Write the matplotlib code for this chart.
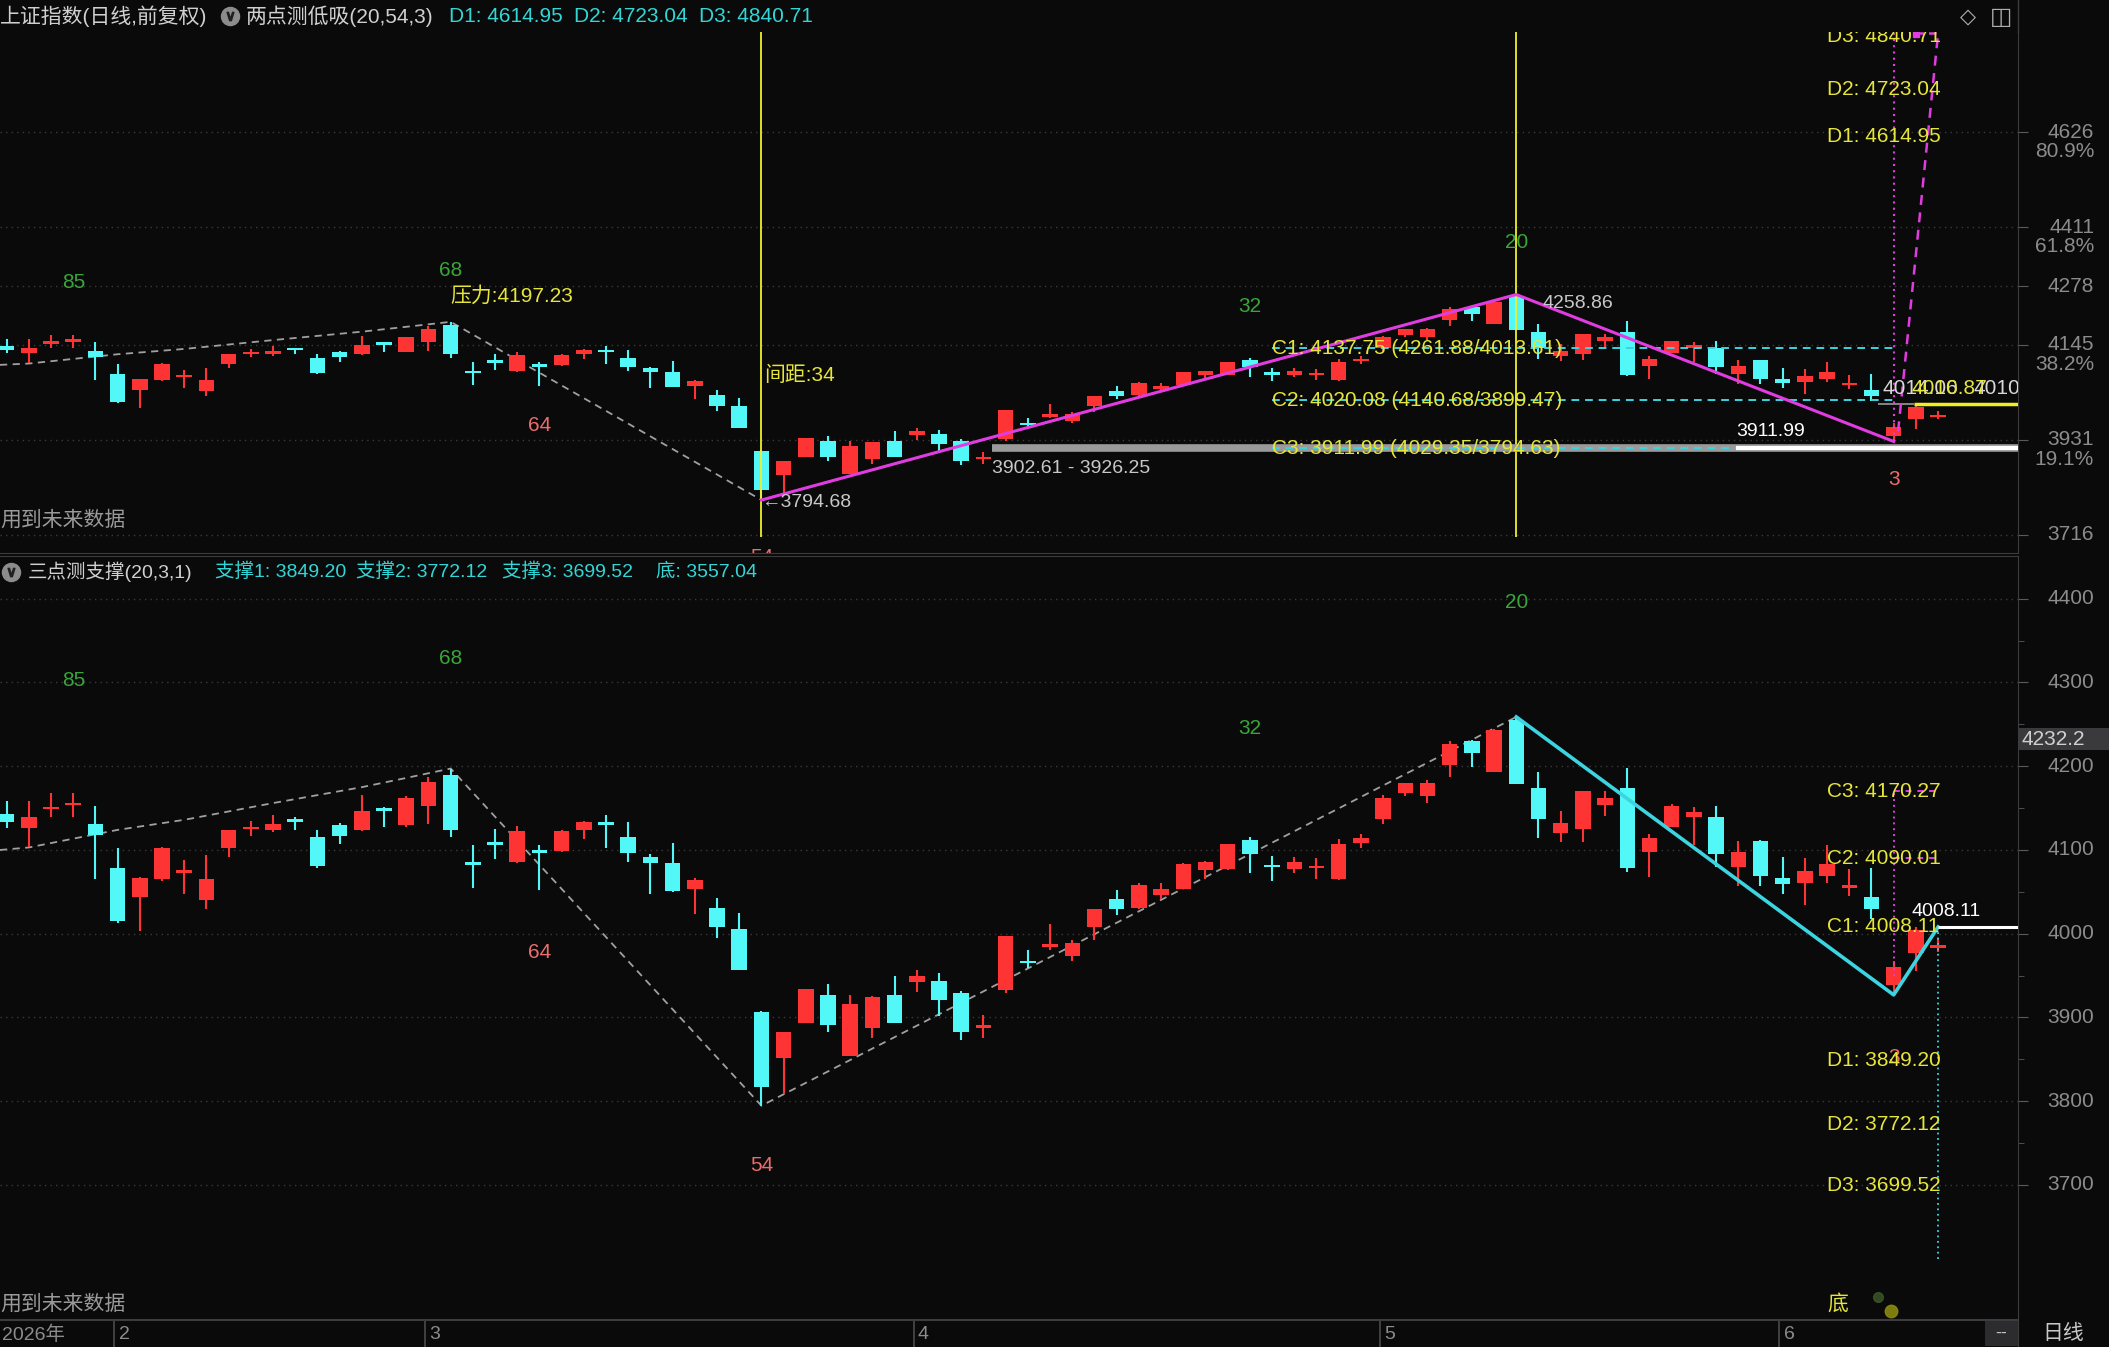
import matplotlib
matplotlib.use('Agg')
import matplotlib.pyplot as plt
from matplotlib.lines import Line2D
from matplotlib.patches import Rectangle
from matplotlib.transforms import blended_transform_factory as blend
import numpy as np

plt.rcParams['font.family'] = ['Liberation Sans', 'Noto Sans CJK SC', 'DejaVu Sans']

# ---- daily candles (index 0 = late Jan 2026, last = early June) ----
opens = [4143, 4126, 4149, 4154, 4131, 4079, 4044, 4065, 4074, 4040,
         4102, 4126, 4124, 4136, 4115, 4130, 4124, 4150, 4130, 4152,
         4190, 4086, 4109, 4086, 4099, 4099, 4124, 4133, 4116, 4092,
         4085, 4053, 4031, 4006, 3906, 3852, 3893, 3927, 3854, 3887,
         3927, 3942, 3943, 3929, 3888, 3933, 3968, 3985, 3973, 4008,
         4042, 4031, 4046, 4054, 4076, 4077, 4112, 4082, 4077, 4079,
         4065, 4108, 4137, 4168, 4164, 4201, 4230, 4193, 4255, 4174,
         4120, 4125, 4154, 4174, 4097, 4127, 4139, 4139, 4080, 4111,
         4067, 4061, 4069, 4055, 4044, 3939, 3977, 3984]
highs = [4159, 4158, 4168, 4168, 4152, 4102, 4068, 4104, 4088, 4094,
         4124, 4135, 4142, 4139, 4124, 4132, 4166, 4151, 4164, 4187,
         4197.23, 4106, 4125, 4129, 4106, 4124, 4135, 4142, 4133, 4095,
         4108, 4066, 4043, 4025, 3908, 3883, 3934, 3940, 3927, 3926,
         3950, 3957, 3953, 3932, 3903, 3997, 3980, 4012, 3993, 4029,
         4052, 4061, 4060, 4085, 4087, 4107, 4116, 4093, 4092, 4091,
         4113, 4119, 4166, 4180, 4183, 4230, 4231, 4244, 4258.86, 4193,
         4147, 4170, 4170, 4198, 4119, 4155, 4151, 4153, 4111, 4112,
         4092, 4090, 4106, 4077, 4079, 3968, 4008.11, 3995]
lows = [4126, 4104, 4139, 4139, 4065, 4013, 4003, 4063, 4048, 4030,
        4092, 4117, 4121, 4124, 4079, 4107, 4123, 4128, 4128, 4131,
        4115, 4055, 4089, 4085, 4052, 4098, 4113, 4102, 4086, 4048,
        4050, 4024, 3995, 3957, 3794.68, 3809, 3893, 3883, 3854, 3875,
        3893, 3931, 3902, 3873, 3876, 3929, 3959, 3981, 3968, 3993,
        4022, 4029, 4041, 4053, 4065, 4076, 4073, 4063, 4072, 4065,
        4064, 4102, 4131, 4164, 4156, 4187, 4199, 4193, 4179, 4114,
        4109, 4110, 4141, 4074, 4068, 4127, 4106, 4080, 4057, 4057,
        4047, 4034, 4061, 4045, 4018, 3927, 3956, 3978]
closes = [4133, 4139, 4151, 4156, 4118, 4015, 4067, 4102, 4075, 4065,
          4124, 4127, 4131, 4135, 4081, 4117, 4146, 4147, 4162, 4181,
          4124, 4082, 4107, 4123, 4097, 4123, 4133, 4130, 4096, 4084,
          4051, 4064, 4008, 3957, 3817, 3883, 3934, 3891, 3916, 3925,
          3893, 3950, 3921, 3883, 3891, 3997, 3965, 3987, 3989, 4029,
          4029, 4058, 4053, 4083, 4086, 4107, 4095, 4080, 4086, 4080,
          4107, 4114, 4162, 4180, 4180, 4226, 4216, 4243, 4179, 4137,
          4132, 4170, 4162, 4078, 4114, 4153, 4145, 4095, 4098, 4069,
          4059, 4075, 4083, 4058, 4029, 3960, 4005, 3985]

month_starts = [5, 19, 41, 62, 80]
month_labels = ['2', '3', '4', '5', '6']

# zigzag pivots (grey dashed line)
zz_x = [-0.3, 1, 5, 8, 12, 16, 18, 20, 34, 68]
zz_y = [4100, 4103, 4124, 4136, 4156, 4175, 4186, 4197.23, 3794.68, 4258.86]

# two-point indicator (top pane)
swing_x = [34, 68, 85]
swing_y = [3794.68, 4258.86, 3927]
c_levels = [4137.75, 4020.08, 3911.99]
c_texts = ['C1: 4137.75 (4261.88/4013.61)', 'C2: 4020.08 (4140.68/3899.47)',
           'C3: 3911.99 (4029.35/3794.63)']
d_levels_top = [4614.95, 4723.04, 4840.71]
top_ticks = [4626, 4411, 4278, 4145, 3931, 3716]
top_pcts = ['80.9%', '61.8%', '', '38.2%', '19.1%', '']

# three-point indicator (bottom pane)
leg_x = [68, 85, 87]
leg_y = [4258.86, 3927, 4008.11]
bc_levels = [4170.27, 4090.01, 4008.11]
bd_levels = [3849.20, 3772.12, 3699.52]
bottom_ticks = [4400, 4300, 4200, 4100, 4000, 3900, 3800, 3700]

# bar-count labels: text, index, price top pane, price bottom pane, is_high
count_labels = [('85', 3, 4286, 4302, True), ('68', 20, 4314, 4329, True),
                ('64', 24, 3962, 3977, False), ('54', 34, 3664, 3723, False),
                ('32', 56, 4232, 4245, True), ('20', 68, 4377, 4395, True),
                ('3', 85, 3840, 3852, False)]

BG = '#0a0a0b'
RED = '#fe3434'
CYAN = '#52f8f8'
GRID = '#3a3a3a'
AXC = '#8c8c8c'
YEL = '#e6e63a'
MAG = '#e03ce0'
LINE_CY = '#3cd4e0'
GREEN = '#3aa53a'
SALMON = '#ec6c6c'

W, H = 2109, 1347
fig = plt.figure(figsize=(W / 100, H / 100), dpi=100, facecolor=BG)


def fx(px):
    return px / W


def fy(py):
    return 1 - py / H


ax1 = fig.add_axes([0, fy(553), fx(2018), (553 - 32) / H])
ax2 = fig.add_axes([0, fy(1319), fx(2018), (1319 - 556) / H])
ax3 = fig.add_axes([0, 0, fx(2018), 27 / H])

XL = (-0.3, 90.6)


def style(ax):
    ax.set_facecolor(BG)
    for s in ax.spines.values():
        s.set_color('#3c3c3c')
    ax.spines['left'].set_visible(False)
    ax.set_xticks([])


def candles(ax, minh):
    x = np.arange(len(opens))
    o = np.array(opens, float)
    c = np.array(closes, float)
    col = np.where(c >= o, RED, CYAN)
    ax.vlines(x, lows, highs, colors=col, lw=1.5, zorder=3)
    h = np.maximum(np.abs(c - o), minh)
    ax.bar(x, h, 0.7, bottom=(o + c) / 2 - h / 2, color=col, lw=0, zorder=4)


for ax in (ax1, ax2, ax3):
    style(ax)
ax1.spines['top'].set_visible(False)
# right strip border up to the top of the picture
fig.add_artist(Line2D([fx(2018), fx(2018)], [fy(32), 1], color='#3c3c3c', lw=1,
                      transform=fig.transFigure))

# ---------------- top pane ----------------
ax1.set_xlim(*XL)
ax1.set_ylim(3675, 4852)
ax1.set_yticks(top_ticks)
ax1.yaxis.tick_right()
ax1.tick_params(axis='y', length=7, color='#5a5a5a', labelright=False)
ax1.grid(axis='y', color=GRID, ls=(0, (1, 3)), lw=1)
tr1 = blend(fig.transFigure, ax1.transData)
for v, p in zip(top_ticks, top_pcts):
    ax1.text(fx(2094), v, str(v), transform=tr1, ha='right', va='center',
             color=AXC, fontsize=15, clip_on=False)
    if p:
        ax1.annotate(p, (fx(2094), v), xycoords=tr1, xytext=(0, -14),
                     textcoords='offset points', ha='right', va='center',
                     color=AXC, fontsize=15, annotation_clip=False)

ax1.plot(zz_x, zz_y, color='#a0a0a0', ls=(0, (4, 3)), lw=1.3, zorder=2)
candles(ax1, 6)
for i in (34, 68):
    ax1.vlines(i, 3712, 4852, color='#f0f028', lw=1.3, zorder=5)

# C levels
ax1.hlines(c_levels[2], 44.4, XL[1], color='#9a9a9a', lw=5.5, zorder=5)
ax1.hlines(c_levels[2], 77.9, XL[1], color='white', lw=3, zorder=6)
ax1.hlines(c_levels[:2], 57, 85, color=LINE_CY, ls=(0, (4, 3)), lw=1.4, zorder=5)
ax1.hlines(c_levels[2], 57, 77.9, color=LINE_CY, ls=(0, (4, 3)), lw=1.4, zorder=6)
for lv, t in zip(c_levels, c_texts):
    ax1.text(57, lv, t, color=YEL, fontsize=15, va='center', zorder=8)
ax1.plot(swing_x, swing_y, color=MAG, lw=2.2, zorder=7)

# projection towards D levels
ax1.vlines(85, swing_y[-1], d_levels_top[-1] + 8, color=MAG, ls=(0, (1, 2)), lw=1.5, zorder=7)
ax1.plot([85.2, 87], [3950, d_levels_top[-1] + 8], color=MAG, ls=(0, (4, 3)), lw=1.8, zorder=7)
ax1.plot([86, 87], [d_levels_top[-1] + 8] * 2, color=MAG, ls=(0, (3, 2)), lw=1.8, zorder=7)
ax1.plot([86], [d_levels_top[-1] + 6], 's', color=MAG, ms=5, zorder=7)
for k, lv in enumerate(d_levels_top):
    ax1.text(82, lv, 'D%d: %.2f' % (k + 1, lv), color=YEL, fontsize=15,
             va='center', zorder=8, clip_on=True)

ax1.hlines(4010.87, 84.3, 85.9, color='#9a9a9a', lw=1.2, zorder=5)
ax1.hlines(4010.87, 85.9, XL[1], color='#f0f020', lw=2.5, zorder=6)
ax1.text(84.5, 4046, '4014.06', color='#d8d8d8', fontsize=15, va='center', zorder=8)
ax1.text(85.8, 4046, '4010.87', color=YEL, fontsize=15, va='center', zorder=9)
ax1.text(88.6, 4046, '4010.87', color='#d8d8d8', fontsize=15, va='center', zorder=8,
         clip_on=True)

ax1.text(20, 4256, '压力:4197.23', color=YEL, fontsize=15, va='center', zorder=8)
ax1.text(34.1, 4077, '间距:34', color=YEL, fontsize=15, va='center', zorder=8)
ax1.text(34.0, 3789, '←3794.68', color='#c8c8c8', fontsize=14, va='center', zorder=8)
ax1.text(44.4, 3865, '3902.61 - 3926.25', color='#c8c8c8', fontsize=14, va='center', zorder=8)
ax1.text(69.2, 4238, '4258.86', color='#c8c8c8', fontsize=14, va='center', zorder=8)
ax1.text(77.9, 3950, '3911.99', color='white', fontsize=14, va='center', zorder=8)
ax1.text(-0.3, 3750, '用到未来数据', color='#9a9a9a', fontsize=15, va='center')

for t, i, p1, p2, hi in count_labels:
    ax1.text(i, p1, t, color=GREEN if hi else SALMON, fontsize=15, ha='center',
             va='center', clip_on=True, zorder=8)
    ax2.text(i, p2, t, color=GREEN if hi else SALMON, fontsize=15, ha='center',
             va='center', clip_on=True, zorder=6)

# ---------------- bottom pane ----------------
ax2.set_xlim(*XL)
ax2.set_ylim(3540, 4451)
ax2.set_yticks(bottom_ticks)
ax2.set_yticks([3750, 3850, 3950, 4050, 4150, 4250, 4350], minor=True)
ax2.yaxis.tick_right()
ax2.tick_params(axis='y', which='major', length=7, color='#5a5a5a', labelright=False)
ax2.tick_params(axis='y', which='minor', length=4, color='#5a5a5a', labelright=False)
ax2.grid(axis='y', which='major', color=GRID, ls=(0, (1, 3)), lw=1)
tr2 = blend(fig.transFigure, ax2.transData)
for v in bottom_ticks:
    ax2.text(fx(2094), v, str(v), transform=tr2, ha='right', va='center',
             color=AXC, fontsize=15, clip_on=False)
ax2.add_patch(Rectangle((fx(2018), 4232.2 - 13), fx(W - 2018), 26, transform=tr2,
                        facecolor='#3a3a3c', edgecolor='none', clip_on=False, zorder=9))
ax2.text(fx(2021), 4232.2, '4232.2', transform=tr2, ha='left', va='center',
         color='#d0d0d0', fontsize=15, clip_on=False, zorder=10)

ax2.plot(zz_x, zz_y, color='#a0a0a0', ls=(0, (4, 3)), lw=1.3, zorder=2)
candles(ax2, 3)
ax2.plot(leg_x, leg_y, color=LINE_CY, lw=2.6, zorder=7)
ax2.hlines(leg_y[-1], 87, XL[1], color='white', lw=2.2, zorder=7)
ax2.text(85.8, 4027, '%.2f' % leg_y[-1], color='white', fontsize=14, va='center', zorder=8)
ax2.vlines(87, 3612, leg_y[-1], color=LINE_CY, ls=(0, (1, 2)), lw=1.3, zorder=6)
ax2.vlines(85, 3950, bc_levels[0], color=MAG, ls=(0, (1, 2)), lw=1.4, zorder=6)
ax2.hlines(bc_levels[:2], 85, 87, color=MAG, ls=(0, (3, 3)), lw=1.4, zorder=6)
for k, lv in enumerate(bc_levels):
    ax2.text(82, lv, 'C%d: %.2f' % (3 - k, lv), color=YEL, fontsize=15, va='center', zorder=8)
for k, lv in enumerate(bd_levels):
    ax2.text(82, lv, 'D%d: %.2f' % (k + 1, lv), color=YEL, fontsize=15, va='center', zorder=8)
ax2.text(82, 3558, '底', color=YEL, fontsize=15, va='center', zorder=8)
ax2.plot([84.3], [3566], 'o', color='#3d5a2a', ms=7, alpha=0.8)
ax2.plot([84.9], [3550], 'o', color='#8a8a10', ms=9, alpha=0.9)
ax2.text(-0.3, 3558, '用到未来数据', color='#9a9a9a', fontsize=15, va='center')

# ---------------- date strip ----------------
ax3.set_xlim(*XL)
ax3.set_ylim(0, 1)
ax3.set_yticks([])
ax3.spines['bottom'].set_visible(False)
ax3.vlines([m - 0.15 for m in month_starts], 0, 1, color='#4a4a4a', lw=1.2)
for m, lab in zip(month_starts, month_labels):
    ax3.text(m + 0.05, 0.45, lab, color=AXC, fontsize=14, va='center')
ax3.text(-0.2, 0.45, '2026年', color=AXC, fontsize=14, va='center')
ax3.add_patch(Rectangle((89.1, 0.05), 1.5, 0.9, facecolor='#2c2c2e', edgecolor='none'))
ax3.text(89.85, 0.5, '--', color='#c0c0c0', fontsize=13, ha='center', va='center')
fig.text(fx(2063), fy(1333), '日线', color='#c8c8c8', fontsize=15, ha='center', va='center')

# ---------------- headers ----------------
def header(x_px, y_px, s, color, size=15):
    fig.text(fx(x_px), fy(y_px), s, color=color, fontsize=size, ha='left', va='center')


def icon(x_px, y_px):
    fig.add_artist(Line2D([fx(x_px)], [fy(y_px)], marker='o', ms=13, color='#8c8c8c',
                          transform=fig.transFigure))
    fig.add_artist(Line2D([fx(x_px)], [fy(y_px)], marker='$\\vee$', ms=6, color='#202020',
                          transform=fig.transFigure))


TCY = '#33d6d6'
header(0, 16, '上证指数(日线,前复权)', '#d0d0d0')
icon(230, 16)
header(246, 16, '两点测低吸(20,54,3)', '#d0d0d0')
header(449, 16, 'D1: 4614.95', TCY)
header(574, 16, 'D2: 4723.04', TCY)
header(699, 16, 'D3: 4840.71', TCY)

icon(11, 572)
header(28, 572, '三点测支撑(20,3,1)', '#d0d0d0', 14)
header(215, 572, '支撑1: 3849.20', TCY, 14)
header(356, 572, '支撑2: 3772.12', TCY, 14)
header(502, 572, '支撑3: 3699.52', TCY, 14)
header(656, 572, '底: 3557.04', TCY, 14)

fig.text(fx(1968), fy(17), '◇', color='#b0b0b0', fontsize=15, ha='center', va='center',
         family='DejaVu Sans')
fig.text(fx(2001), fy(17), '◫', color='#b0b0b0', fontsize=17, ha='center', va='center',
         family='DejaVu Sans')

fig.savefig('out.png', dpi=100, facecolor=BG)
